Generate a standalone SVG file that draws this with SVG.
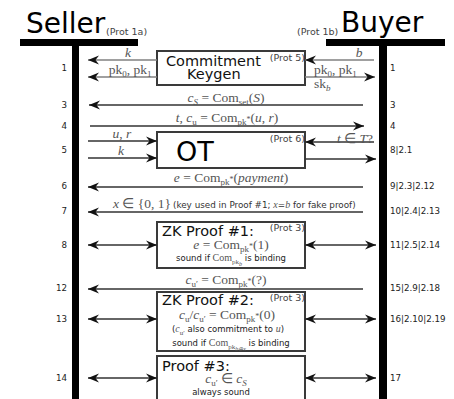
<svg xmlns="http://www.w3.org/2000/svg" width="454" height="399" viewBox="0 0 454 399">
<style>
.sans{font-family:"DejaVu Sans","Noto Sans",sans-serif;}
.hd{font-size:28px;fill:#000;}
.prot{font-size:9.5px;fill:#444;}
.num{font-size:8.7px;fill:#222;}
.box{fill:#fff;stroke:#3a3a3a;stroke-width:2;}
.bt{font-size:14.5px;fill:#111;}
.m{font-family:"Liberation Serif","Times New Roman",serif;font-size:13.5px;fill:#555;}
.ms{font-family:"Liberation Serif","Times New Roman",serif;font-size:10px;fill:#555;}
.it{font-style:italic;}
.sb{font-size:9px;baseline-shift:-3px;}
.sbs{font-size:7px;baseline-shift:-3px;}
.ssb{font-size:6px;baseline-shift:-5px;}
.sm{font-size:8.5px;fill:#222;}
.ln{stroke:#333;stroke-width:1.4;fill:none;}
.lg{stroke:#808080;stroke-width:1.6;fill:none;}
</style>
<defs>
<marker id="ah" viewBox="-12 -6 13 12" markerWidth="13" markerHeight="12" markerUnits="userSpaceOnUse" refX="0" refY="0" orient="auto-start-reverse">
<path d="M0,0 L-11,-4.5 L-7.5,0 L-11,4.5 z" fill="#111"/>
</marker>
</defs>

<g id="seller">
<rect x="20" y="39" width="118" height="7" fill="#000"/>
<rect x="72" y="46" width="7" height="353" fill="#000"/>
<text class="sans hd" x="26" y="33">Seller</text>
<text class="sans prot" x="106" y="35">(Prot 1a)</text>
</g>

<g id="buyer">
<rect x="326" y="39" width="119" height="7" fill="#000"/>
<rect x="379" y="46" width="8" height="353" fill="#000"/>
<text class="sans hd" x="341" y="32">Buyer</text>
<text class="sans prot" x="297" y="35">(Prot 1b)</text>
</g>

<g id="row-numbers" class="sans num">
<text x="67" y="71" text-anchor="end">1</text>
<text x="67" y="108" text-anchor="end">3</text>
<text x="67" y="129" text-anchor="end">4</text>
<text x="67" y="153" text-anchor="end">5</text>
<text x="67" y="189" text-anchor="end">6</text>
<text x="67" y="214" text-anchor="end">7</text>
<text x="67" y="248" text-anchor="end">8</text>
<text x="67" y="291" text-anchor="end">12</text>
<text x="67" y="322" text-anchor="end">13</text>
<text x="67" y="381" text-anchor="end">14</text>
<text x="390" y="71">1</text>
<text x="390" y="108">3</text>
<text x="390" y="129">4</text>
<text x="390" y="153">8|2.1</text>
<text x="390" y="189">9|2.3|2.12</text>
<text x="390" y="214">10|2.4|2.13</text>
<text x="390" y="248">11|2.5|2.14</text>
<text x="390" y="291">15|2.9|2.18</text>
<text x="390" y="322">16|2.10|2.19</text>
<text x="390" y="381">17</text>
</g>

<g id="keygen">
<rect class="box" x="157" y="51" width="148" height="34"/>
<text class="sans bt" x="166" y="66">Commitment</text>
<text class="sans bt" x="187" y="79">Keygen</text>
<text class="sans prot" x="305" y="61" text-anchor="end">(Prot 5)</text>
</g>

<g id="ot">
<rect class="box" x="157" y="132" width="148" height="36"/>
<text class="sans" x="176" y="161" font-size="27" fill="#000">OT</text>
<text class="sans prot" x="305" y="142" text-anchor="end">(Prot 6)</text>
</g>

<g id="zk1">
<rect class="box" x="157" y="222" width="148" height="46"/>
<text class="sans bt" x="162" y="236">ZK Proof #1:</text>
<text class="sans prot" x="305" y="231" text-anchor="end">(Prot 3)</text>
<text class="m" x="231" y="249" text-anchor="middle"><tspan class="it">e</tspan> = Com<tspan class="sb">pk</tspan><tspan font-size="8">*</tspan>(1)</text>
<text class="sans sm" x="231" y="261" text-anchor="middle">sound if <tspan class="ms">Com<tspan class="sbs">pk</tspan><tspan class="ssb it">b</tspan></tspan> is binding</text>
</g>

<g id="zk2">
<rect class="box" x="157" y="292" width="148" height="59"/>
<text class="sans bt" x="162" y="305">ZK Proof #2:</text>
<text class="sans prot" x="305" y="301" text-anchor="end">(Prot 3)</text>
<text class="m" x="227" y="319" text-anchor="middle" font-size="13"><tspan class="it">c</tspan><tspan class="sb">u</tspan>/<tspan class="it">c</tspan><tspan class="sb">u′</tspan> = Com<tspan class="sb">pk</tspan><tspan font-size="8">*</tspan>(0)</text>
<text class="sans sm" x="228" y="332" text-anchor="middle">(<tspan class="ms"><tspan class="it">c</tspan><tspan class="sbs">u′</tspan></tspan> also commitment to <tspan class="ms it">u</tspan>)</text>
<text class="sans sm" x="231" y="346" text-anchor="middle">sound if <tspan class="ms">Com<tspan class="sbs">pk</tspan><tspan class="ssb it">b⊕x</tspan></tspan> is binding</text>
</g>

<g id="proof3">
<rect class="box" x="157" y="356" width="148" height="50"/>
<text class="sans bt" x="162" y="371">Proof #3:</text>
<text class="m" x="226" y="383" text-anchor="middle"><tspan class="it">c</tspan><tspan class="sb">u′</tspan> ∈ <tspan class="it">c</tspan><tspan class="sb it">S</tspan></text>
<text class="sans sm" x="221" y="395" text-anchor="middle">always sound</text>
</g>

<g id="connectors">
<line class="lg" x1="157" y1="60" x2="88" y2="60" marker-end="url(#ah)"/>
<line class="lg" x1="157" y1="77" x2="88" y2="77" marker-end="url(#ah)"/>
<line class="lg" x1="374" y1="60" x2="305" y2="60" marker-end="url(#ah)"/>
<line class="lg" x1="305" y1="77" x2="375" y2="77" marker-end="url(#ah)"/>
<line class="ln" x1="363" y1="105" x2="89" y2="105" marker-end="url(#ah)"/>
<line class="ln" x1="90" y1="126" x2="364" y2="126" marker-end="url(#ah)"/>
<line class="ln" x1="88" y1="141" x2="157" y2="141" marker-end="url(#ah)"/>
<line class="ln" x1="88" y1="158" x2="157" y2="158" marker-end="url(#ah)"/>
<line class="ln" x1="374" y1="142" x2="305" y2="142" marker-end="url(#ah)"/>
<line class="ln" x1="305" y1="159" x2="376" y2="159" marker-end="url(#ah)"/>
<line class="ln" x1="363" y1="187" x2="88" y2="187" marker-end="url(#ah)"/>
<line class="ln" x1="363" y1="212" x2="88" y2="212" marker-end="url(#ah)"/>
<line class="ln" x1="88" y1="245" x2="157" y2="245" marker-start="url(#ah)" marker-end="url(#ah)"/>
<line class="ln" x1="305" y1="245" x2="376" y2="245" marker-start="url(#ah)" marker-end="url(#ah)"/>
<line class="ln" x1="363" y1="289" x2="88" y2="289" marker-end="url(#ah)"/>
<line class="ln" x1="88" y1="319" x2="157" y2="319" marker-start="url(#ah)" marker-end="url(#ah)"/>
<line class="ln" x1="305" y1="319" x2="376" y2="319" marker-start="url(#ah)" marker-end="url(#ah)"/>
<line class="ln" x1="88" y1="378" x2="157" y2="378" marker-start="url(#ah)" marker-end="url(#ah)"/>
<line class="ln" x1="305" y1="378" x2="376" y2="378" marker-start="url(#ah)" marker-end="url(#ah)"/>
</g>

<g id="connector-labels">
<text class="m it" x="128" y="57" text-anchor="middle">k</text>
<text class="m" x="130" y="74" text-anchor="middle">pk<tspan class="sb">0</tspan>, pk<tspan class="sb">1</tspan></text>
<text class="m it" x="359" y="57" text-anchor="middle">b</text>
<text class="m" x="314" y="74">pk<tspan class="sb">0</tspan>, pk<tspan class="sb">1</tspan></text>
<text class="m" x="314" y="88">sk<tspan class="sb it">b</tspan></text>
<text class="m" x="226" y="102" text-anchor="middle"><tspan class="it">c</tspan><tspan class="sb it">S</tspan> = Com<tspan class="sb">set</tspan>(<tspan class="it">S</tspan>)</text>
<text class="m" x="227" y="122" text-anchor="middle"><tspan class="it">t</tspan>, <tspan class="it">c</tspan><tspan class="sb">u</tspan> = Com<tspan class="sb">pk</tspan><tspan font-size="8">*</tspan>(<tspan class="it">u</tspan>, <tspan class="it">r</tspan>)</text>
<text class="m" x="122" y="138" text-anchor="middle"><tspan class="it">u</tspan>, <tspan class="it">r</tspan></text>
<text class="m it" x="121" y="155" text-anchor="middle">k</text>
<text class="m" x="355" y="143" text-anchor="middle"><tspan class="it">t</tspan> ∈ <tspan class="it">T</tspan>?</text>
<text class="m" x="231" y="182" text-anchor="middle"><tspan class="it">e</tspan> = Com<tspan class="sb">pk</tspan><tspan font-size="8">*</tspan>(<tspan class="it">payment</tspan>)</text>
<text class="m" x="113" y="208"><tspan class="it">x</tspan> ∈ {0, 1}</text>
<text class="sans" x="173" y="208" font-size="8.8" fill="#333">(key used in Proof #1; <tspan class="ms it">x</tspan>=<tspan class="ms it">b</tspan> for fake proof)</text>
<text class="m" x="226" y="284" text-anchor="middle"><tspan class="it">c</tspan><tspan class="sb">u′</tspan> = Com<tspan class="sb">pk</tspan><tspan font-size="8">*</tspan>(?)</text>
</g>
</svg>
